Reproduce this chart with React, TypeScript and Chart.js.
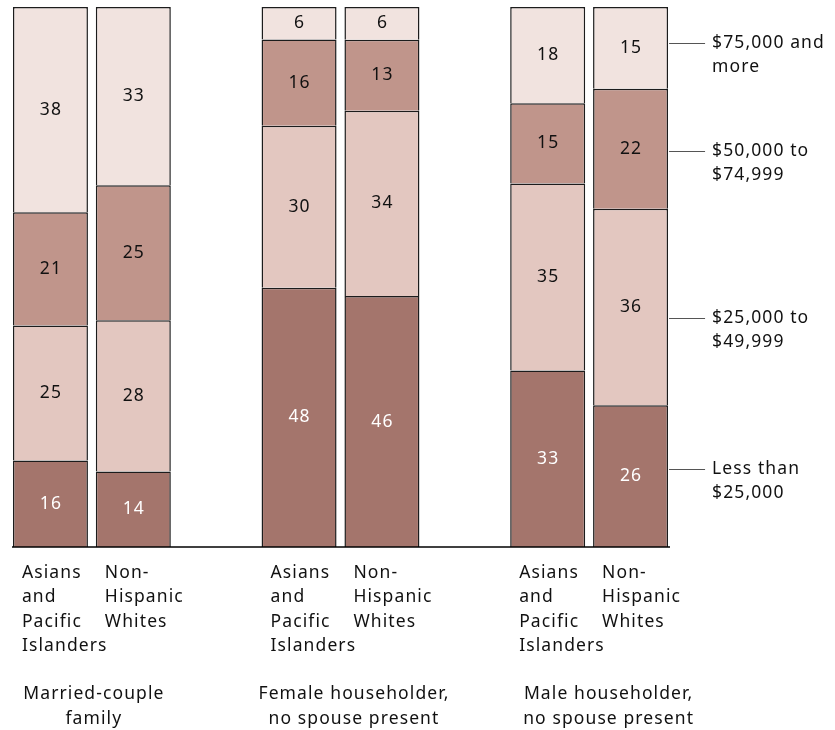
import React, { useEffect, useRef } from 'react';
import { Chart, registerables } from 'chart.js';

Chart.register(...registerables);

// ---- Data ----
const groupLabels: string[][] = [
  ['Married-couple', 'family'],
  ['Female householder,', 'no spouse present'],
  ['Male householder,', 'no spouse present'],
];
const barLabels: string[][] = [
  ['Asians', 'and', 'Pacific', 'Islanders'],
  ['Non-', 'Hispanic', 'Whites'],
  ['Asians', 'and', 'Pacific', 'Islanders'],
  ['Non-', 'Hispanic', 'Whites'],
  ['Asians', 'and', 'Pacific', 'Islanders'],
  ['Non-', 'Hispanic', 'Whites'],
];
// slot index of each bar on the category axis (gaps between family types)
const barSlots = [0, 1, 3, 4, 6, 7];
const slotCount = 8;

const lessThan25k = [16, 14, 48, 46, 33, 26];
const from25kTo50k = [25, 28, 30, 34, 35, 36];
const from50kTo75k = [21, 25, 16, 13, 15, 22];
const over75k = [38, 33, 6, 6, 18, 15];

const bracketNames: string[][] = [
  ['Less than', '$25,000'],
  ['$25,000 to', '$49,999'],
  ['$50,000 to', '$74,999'],
  ['$75,000 and', 'more'],
];
// percent levels where the bracket legend leaders point
const bracketLabelLevels = [14.4, 42.4, 73.3, 93.3];

const bracketColors = ['#a4756c', '#e3c7c0', '#c0958b', '#f1e3df'];
const bracketTextColors = ['#ffffff', '#111111', '#111111', '#111111'];

const FONT = '"Noto Sans", "DejaVu Sans", sans-serif';
const FONT_SIZE = 17.5;
const LETTER_SPACING = '1.1px';

export default function App() {
  const canvasRef = useRef<HTMLCanvasElement | null>(null);

  useEffect(() => {
    document.body.style.margin = '0';
    const canvas = canvasRef.current;
    if (!canvas) return;

    const series = [lessThan25k, from25kTo50k, from50kTo75k, over75k];
    const totals = barSlots.map((_, i) => series.reduce((s, arr) => s + arr[i], 0));

    const datasets = series.map((arr, k) => {
      const data: (number | null)[] = new Array(slotCount).fill(null);
      barSlots.forEach((slot, i) => {
        data[slot] = (arr[i] / totals[i]) * 100;
      });
      return {
        label: bracketNames[k].join(' '),
        data,
        backgroundColor: bracketColors[k],
        borderColor: '#1c1c1c',
        borderWidth: { top: 1.5, left: 1.5, right: 1.5, bottom: 0 },
        borderSkipped: false as const,
        barPercentage: 0.905,
        categoryPercentage: 1,
      };
    });

    const labelsPlugin = {
      id: 'customLabels',
      afterDatasetsDraw(chart: any) {
        const ctx = chart.ctx as CanvasRenderingContext2D;
        const yScale = chart.scales.y;
        const baseY = yScale.getPixelForValue(0);
        ctx.save();
        (ctx as any).letterSpacing = LETTER_SPACING;

        // value labels
        ctx.font = `${FONT_SIZE}px ${FONT}`;
        ctx.textAlign = 'center';
        ctx.textBaseline = 'middle';
        series.forEach((arr, k) => {
          const meta = chart.getDatasetMeta(k);
          barSlots.forEach((slot, i) => {
            const el: any = meta.data[slot];
            if (!el) return;
            const cy = (el.y + el.base) / 2;
            ctx.fillStyle = bracketTextColors[k];
            ctx.fillText(String(arr[i]), el.x + 0.5, cy);
          });
        });

        // axis line
        ctx.strokeStyle = '#000';
        ctx.lineWidth = 1.5;
        ctx.beginPath();
        ctx.moveTo(chart.chartArea.left + 3, baseY);
        ctx.lineTo(chart.chartArea.right - 2, baseY);
        ctx.stroke();

        // bar labels
        const meta0 = chart.getDatasetMeta(0);
        ctx.fillStyle = '#111';
        ctx.textAlign = 'left';
        barSlots.forEach((slot, i) => {
          const el: any = meta0.data[slot];
          const left = el.x - el.width / 2 + 9;
          barLabels[i].forEach((line, j) => {
            ctx.fillText(line, left, baseY + 26 + j * 24.5);
          });
        });

        // group labels
        const groupOffsets = [2, 13.5, 19.5];
        ctx.textAlign = 'center';
        groupLabels.forEach((lines, g) => {
          const a: any = meta0.data[barSlots[g * 2]];
          const b: any = meta0.data[barSlots[g * 2 + 1]];
          const cx = (a.x + b.x) / 2 + groupOffsets[g];
          lines.forEach((line, j) => {
            ctx.fillText(line, cx, baseY + 147.5 + j * 25);
          });
        });

        // bracket legend on the right
        const lastEl: any = meta0.data[barSlots[barSlots.length - 1]];
        const right = lastEl.x + lastEl.width / 2;
        ctx.textAlign = 'left';
        bracketNames.forEach((lines, k) => {
          const y = yScale.getPixelForValue(bracketLabelLevels[k]);
          ctx.strokeStyle = '#555';
          ctx.lineWidth = 1;
          ctx.beginPath();
          ctx.moveTo(right + 1, Math.round(y) + 0.5);
          ctx.lineTo(right + 37, Math.round(y) + 0.5);
          ctx.stroke();
          ctx.fillStyle = '#111';
          lines.forEach((line, j) => {
            ctx.fillText(line, right + 44, y + j * 24);
          });
        });

        ctx.restore();
      },
    };

    const chart = new Chart(canvas, {
      type: 'bar',
      data: {
        labels: new Array(slotCount).fill(''),
        datasets,
      },
      options: {
        animation: false,
        responsive: false,
        maintainAspectRatio: false,
        layout: { padding: { left: 9, right: 163, top: 7, bottom: 183 } },
        plugins: { legend: { display: false }, tooltip: { enabled: false } },
        scales: {
          x: { stacked: true, display: false },
          y: { stacked: true, display: false, min: 0, max: 100 },
        },
      },
      plugins: [labelsPlugin],
    });

    return () => chart.destroy();
  }, []);

  return (
    <div style={{ width: 835, height: 730 }}>
      <canvas ref={canvasRef} width={835} height={730} style={{ display: 'block' }} />
    </div>
  );
}
